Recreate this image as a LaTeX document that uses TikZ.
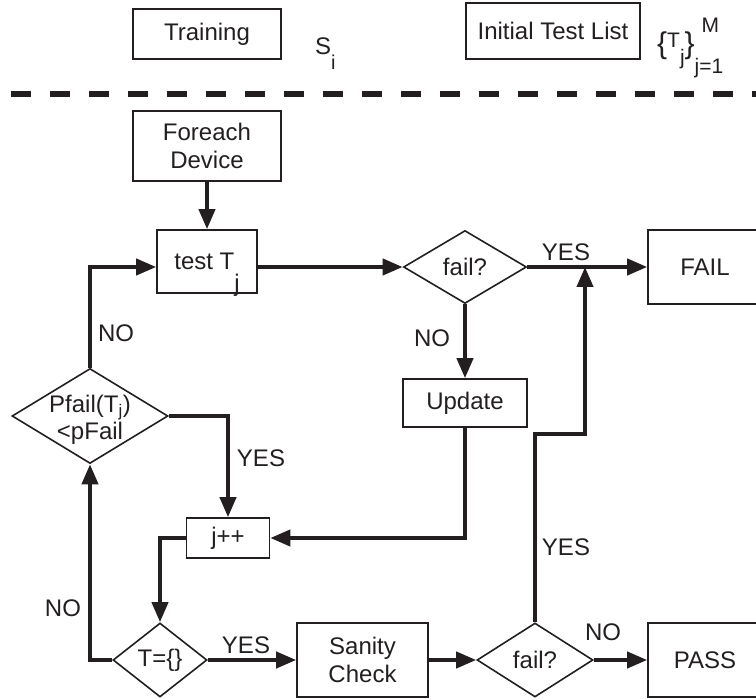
\documentclass[tikz,border=0pt]{standalone}
\usepackage{fontspec}
\setmainfont{Liberation Sans}
\usetikzlibrary{shapes.geometric,arrows.meta}
\definecolor{ink}{RGB}{35,31,32}
\begin{document}
\begin{tikzpicture}[x=1pt,y=-1pt,
  every node/.style={font=\fontsize{24}{27.5}\selectfont, text=ink},
  stepbox/.style={draw=ink, line width=1.6pt, rectangle, inner sep=0pt, align=center},
  decision/.style={draw=ink, line width=1.6pt, diamond, inner sep=0pt},
  flow/.style={draw=ink, line width=4pt, -{Triangle[length=20pt,width=16pt]}},
  tag/.style={inner sep=0pt}]
\useasboundingbox (0,0) rectangle (756,700);

% --- header: inputs of the procedure ---
\node[stepbox, minimum width=148pt, minimum height=50pt] (train) at (207,34) {Training};
\node[tag, anchor=base west] (si) at (315,55)
  {S\raisebox{-15pt}{\fontsize{20}{20}\selectfont i}};
\node[stepbox, minimum width=174pt, minimum height=56pt] (init) at (553,31) {Initial Test List};
\node[tag, anchor=base west, font=\fontsize{21}{21}\selectfont] (tset) at (657,48)
  {\raisebox{-6pt}{\fontsize{30}{30}\selectfont\{}T\raisebox{-17pt}{j}%
   \raisebox{-6pt}{\fontsize{30}{30}\selectfont\}}%
   \rlap{\hspace{7pt}\raisebox{15pt}{M}}\raisebox{-26pt}{j=1}};

% separator between inputs and the test loop
\coordinate (sepL) at (11,94);
\coordinate (sepR) at (770,94);
\draw[ink, line width=6pt, dash pattern=on 19.5pt off 19.5pt] (sepL) -- (sepR);

% --- flow chart ---
\node[stepbox, minimum width=148pt, minimum height=70pt] (fore) at (207,146) {Foreach\\Device};
\node[stepbox, minimum width=100pt, minimum height=63pt] (test) at (207,261.5)
  {test T\raisebox{-22pt}[0pt][0pt]{j}};
\node[decision, minimum width=123pt, minimum height=73pt] (fail1) at (465,267) {fail?};
\node[stepbox, minimum width=114pt, minimum height=74pt] (failbox) at (705,267) {FAIL};
\node[stepbox, minimum width=124pt, minimum height=48pt] (upd) at (465,403) {Update};
\node[stepbox, minimum width=83pt, minimum height=40pt] (jpp) at (228,538) {j++};
\node[decision, minimum width=156pt, minimum height=95pt,
  label={[align=center, yshift=-4pt]center:{Pfail(T\textsubscript{j})\\<pFail}}] (pfail) at (90,416) {};
\node[decision, minimum width=94pt, minimum height=74pt] (tempty) at (160,660) {T=\{\}};
\node[stepbox, minimum width=131pt, minimum height=74pt] (sanity) at (362.5,660) {Sanity\\Check};
\node[decision, minimum width=116pt, minimum height=74pt] (fail2) at (535,660) {fail?};
\node[stepbox, minimum width=114pt, minimum height=74pt] (passbox) at (705,660) {PASS};

\coordinate (bend) at (585,434);
\coordinate (merge) at (585,267);

\draw[flow] (fore.south) -- (test.north);
\draw[flow] (test.east |- fail1.west) -- (fail1.west);
\draw[flow] (fail1.east) -- (failbox.west);
\draw[flow] (fail1.south) -- (upd.north);
\draw[flow] (upd.south) |- (jpp.east);
\draw[flow] (jpp.west) -| (tempty.north);
\draw[flow] (tempty.west) -| (pfail.south);
\draw[flow] (pfail.north) |- (test.west |- fail1.west);
\draw[flow] (pfail.east) -| (jpp.north);
\draw[flow] (tempty.east) -- (sanity.west);
\draw[flow] (sanity.east) -- (fail2.west);
\draw[flow] (fail2.east) -- (passbox.west);
\draw[flow] (fail2.north) |- (bend) -- (merge);

% branch labels
\node[tag] (yes1) at (566,252) {YES};
\node[tag] (no1) at (432,338) {NO};
\node[tag] (no2) at (116,333) {NO};
\node[tag] (yes2) at (261,458) {YES};
\node[tag] (no3) at (63,608) {NO};
\node[tag] (yes3) at (246,645) {YES};
\node[tag] (yes4) at (566,547) {YES};
\node[tag] (no4) at (603,632) {NO};
\end{tikzpicture}
\end{document}
